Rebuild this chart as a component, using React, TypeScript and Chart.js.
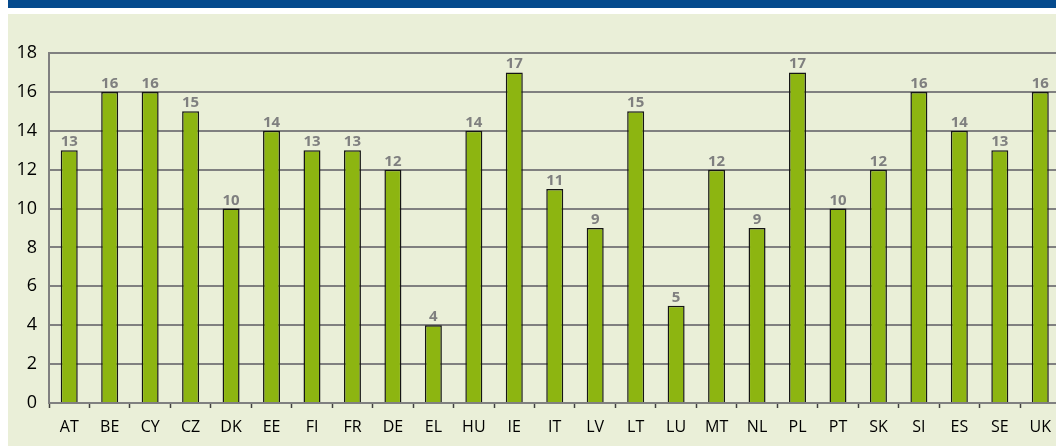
import React, { useEffect, useRef } from "react";
import { Chart, registerables } from "chart.js";

Chart.register(...registerables);

const categories = ["AT","BE","CY","CZ","DK","EE","FI","FR","DE","EL","HU","IE","IT","LV","LT","LU","MT","NL","PL","PT","SK","SI","ES","SE","UK"];
const values = [13,16,16,15,10,14,13,13,12,4,14,17,11,9,15,5,12,9,17,10,12,16,14,13,16];
const yTicks = [0,2,4,6,8,10,12,14,16,18];

const FONT = "'Open Sans', 'Liberation Sans', sans-serif";

const valueLabels = {
  id: "valueLabels",
  afterDatasetsDraw(chart: any) {
    const ctx = chart.ctx;
    const meta = chart.getDatasetMeta(0);
    ctx.save();
    ctx.fillStyle = "#7f7f7f";
    ctx.font = `bold 15px ${FONT}`;
    ctx.textAlign = "center";
    ctx.textBaseline = "alphabetic";
    meta.data.forEach((bar: any, i: number) => {
      ctx.fillText(String(values[i]), bar.x, bar.y - 4);
    });
    ctx.restore();
  },
};

export default function App() {
  const ref = useRef<HTMLCanvasElement>(null);
  useEffect(() => {
    let chart: any = null;
    let cancelled = false;
    const build = () => {
      if (cancelled || !ref.current) return;
      chart = new Chart(ref.current, {
        type: "bar",
        data: {
          labels: categories,
          datasets: [
            {
              data: values,
              backgroundColor: "#8DB511",
              borderColor: "#151515",
              borderWidth: 1.5,
              categoryPercentage: 1,
              barPercentage: 0.42,
            },
          ],
        },
        options: {
          animation: false,
          responsive: false,
          devicePixelRatio: 1,
          layout: { padding: { top: 39, left: 0, right: 0, bottom: 0 } },
          plugins: { legend: { display: false }, tooltip: { enabled: false } },
          scales: {
            x: {
              grid: {
                offset: true,
                drawOnChartArea: false,
                drawTicks: true,
                tickLength: 5,
                tickColor: "#404040",
                tickWidth: 1.5,
              },
              border: { color: "#808080", width: 2 },
              ticks: { color: "#000", font: { family: FONT, size: 16 }, padding: 10, maxRotation: 0, autoSkip: false },
              afterFit: (s: any) => { s.height = 43; },
            },
            y: {
              min: 0,
              max: 18,
              afterBuildTicks: (s: any) => { s.ticks = yTicks.map((v) => ({ value: v })); },
              grid: { color: "#808080", lineWidth: 2, drawTicks: false },
              border: { color: "#808080", width: 2 },
              ticks: { color: "#000", font: { family: FONT, size: 18 }, padding: 12 },
              afterFit: (s: any) => { s.width = 41; },
            },
          },
        },
        plugins: [valueLabels],
      });
    };
    const fonts: any = (document as any).fonts;
    if (fonts && fonts.load) {
      Promise.all([
        fonts.load("18px 'Open Sans'"),
        fonts.load("16px 'Open Sans'"),
        fonts.load("bold 15px 'Open Sans'"),
      ]).then(build, build);
    } else {
      build();
    }
    return () => {
      cancelled = true;
      if (chart) chart.destroy();
    };
  }, []);

  return (
    <div style={{ position: "fixed", left: 0, top: 0, width: 1056, height: 446, overflow: "hidden", background: "#fff" }}>
      <div style={{ position: "absolute", left: 8, top: 0, width: 1048, height: 8, background: "#054A8D" }} />
      <div style={{ position: "absolute", left: 8, top: 14, width: 1048, height: 432, background: "#EAEFD8" }} />
      <canvas ref={ref} width={1053} height={432} style={{ position: "absolute", left: 8, top: 14, width: 1053, height: 432 }} />
    </div>
  );
}
